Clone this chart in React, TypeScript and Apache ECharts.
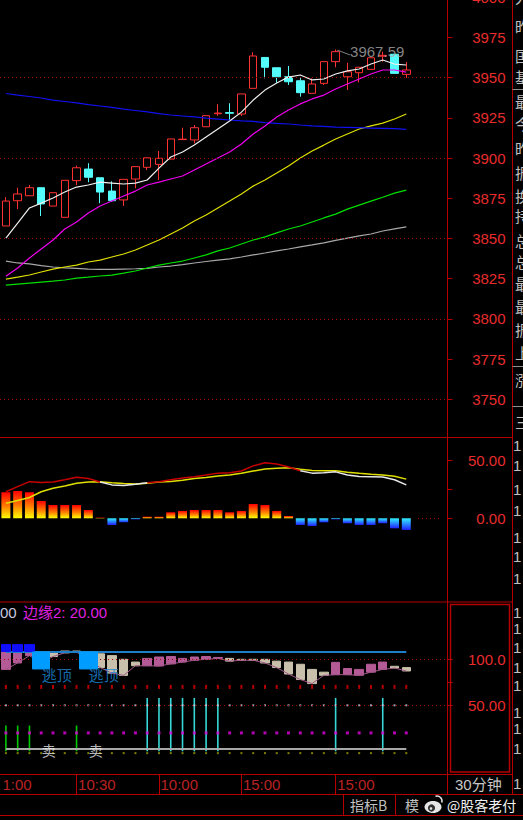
import React, { useEffect, useRef } from "react";
import * as echarts from "echarts";

// ---------- data ----------
const categories = Array.from({ length: 38 }, (_, i) => "k" + (i + 1));

const openP = [3857.8, 3873.5, 3876.6, 3881.6, 3870.2, 3863.2, 3886.0, 3893.2, 3887.8, 3879.5, 3874.0, 3887.0, 3894.3, 3896.1, 3899.4, 3911.5, 3911.3, 3919.5, 3927.6, 3928.3, 3927.4, 3943.4, 3962.6, 3956.2, 3950.6, 3948.1, 3940.3, 3946.5, 3960.0, 3950.6, 3953.1, 3955.2, 3963.4, 3964.6, 3952.1];
const closeP = [3873.3, 3877.7, 3881.6, 3871.5, 3878.5, 3886.2, 3894.0, 3888.1, 3878.9, 3873.5, 3886.8, 3894.7, 3900.2, 3899.9, 3911.9, 3911.8, 3918.9, 3926.4, 3928.0, 3927.9, 3939.9, 3963.5, 3956.5, 3950.6, 3947.5, 3940.7, 3946.1, 3960.0, 3966.2, 3953.7, 3956.5, 3962.4, 3963.9, 3952.7, 3954.8];
const lowP = [3857.8, 3868.3, 3876.6, 3864.0, 3870.2, 3863.2, 3883.3, 3885.0, 3871.9, 3873.0, 3870.2, 3881.2, 3892.6, 3886.4, 3899.4, 3911.5, 3909.2, 3919.5, 3926.4, 3923.7, 3926.2, 3943.4, 3949.6, 3946.9, 3945.5, 3938.2, 3940.3, 3945.5, 3956.5, 3942.4, 3947.1, 3955.2, 3960.0, 3952.7, 3949.8];
const highP = [3875.8, 3881.6, 3883.3, 3881.6, 3878.5, 3886.2, 3895.3, 3896.8, 3887.8, 3885.6, 3886.8, 3894.7, 3900.2, 3904.4, 3911.9, 3918.9, 3920.6, 3926.4, 3933.5, 3934.1, 3939.9, 3965.8, 3962.6, 3956.2, 3957.3, 3950.0, 3949.6, 3960.0, 3967.59, 3959.3, 3956.5, 3962.4, 3966.2, 3964.6, 3959.8];

const ma5 = [3850.3, 3859.6, 3869.0, 3872.0, 3875.2, 3878.9, 3882.0, 3883.3, 3885.1, 3884.5, 3883.9, 3884.5, 3886.4, 3893.8, 3900.7, 3903.8, 3908.1, 3913.1, 3918.1, 3923.1, 3928.6, 3936.1, 3942.3, 3946.7, 3950.4, 3951.7, 3948.6, 3949.2, 3952.3, 3954.2, 3955.4, 3958.5, 3961.0, 3958.5, 3957.9];
const ma10 = [3826.6, 3831.7, 3837.9, 3843.5, 3849.1, 3855.9, 3860.3, 3865.9, 3870.2, 3873.3, 3876.4, 3879.5, 3883.3, 3885.1, 3887.0, 3888.9, 3892.6, 3896.3, 3900.1, 3903.8, 3908.8, 3915.0, 3920.0, 3925.6, 3929.9, 3933.7, 3936.8, 3939.2, 3943.0, 3946.1, 3949.2, 3952.3, 3954.8, 3954.8, 3953.5];
const ma20 = [3824.8, 3826.0, 3827.3, 3829.2, 3831.0, 3832.3, 3833.5, 3835.4, 3836.6, 3838.5, 3840.4, 3842.9, 3846.0, 3849.1, 3852.8, 3856.5, 3860.9, 3864.6, 3869.0, 3873.3, 3877.7, 3882.6, 3886.4, 3890.7, 3895.1, 3900.1, 3904.4, 3908.1, 3911.9, 3915.0, 3918.1, 3920.0, 3921.8, 3924.3, 3927.4];
const ma30 = [3821.0, 3821.7, 3822.3, 3822.9, 3823.5, 3824.2, 3825.4, 3826.0, 3826.7, 3827.3, 3828.5, 3829.8, 3831.7, 3833.5, 3834.8, 3836.0, 3837.9, 3839.8, 3842.3, 3844.1, 3846.6, 3849.1, 3851.0, 3853.5, 3855.9, 3857.8, 3860.3, 3862.8, 3865.2, 3868.3, 3870.8, 3873.3, 3875.7, 3878.2, 3880.1];
const ma60 = [3836.0, 3834.8, 3834.2, 3833.2, 3832.3, 3831.7, 3831.4, 3831.0, 3830.8, 3830.8, 3831.0, 3831.2, 3831.5, 3832.3, 3832.9, 3833.8, 3834.8, 3835.7, 3836.6, 3837.3, 3838.5, 3839.8, 3841.0, 3842.3, 3843.5, 3844.8, 3846.0, 3847.3, 3848.8, 3850.3, 3851.6, 3852.8, 3854.7, 3856.0, 3857.2];
const ma120 = [3940.2, 3939.2, 3938.3, 3937.4, 3936.1, 3935.2, 3934.3, 3933.3, 3932.4, 3931.5, 3930.5, 3929.6, 3928.7, 3927.7, 3926.8, 3926.2, 3925.6, 3924.9, 3924.3, 3923.7, 3923.1, 3922.8, 3922.1, 3921.6, 3921.2, 3920.6, 3920.1, 3919.8, 3919.3, 3919.1, 3918.9, 3918.7, 3918.5, 3918.3, 3917.9];

const highIdx = 28;
const highMark = 3967.59;

const priceTicks = [3750, 3775, 3800, 3825, 3850, 3875, 3900, 3925, 3950, 3975, 4000];
const priceGrid = [3750, 3800, 3850, 3900, 3950];

const macdBar = [22.6, 23.7, 22.6, 15.0, 11.5, 11.5, 11.5, 7.2, 0.6, -5.8, -3.5, -0.9, 1.4, 1.4, 5.2, 6.4, 7.2, 7.2, 7.2, 5.2, 6.4, 12.4, 11.5, 6.4, 2.0, -5.8, -6.7, -3.5, -0.9, -4.3, -5.8, -5.8, -4.3, -8.7, -10.1];
const difLine = [23.0, 27.5, 31.8, 31.0, 31.5, 33.5, 35.6, 34.5, 31.5, 29.0, 28.5, 29.6, 30.9, 31.8, 33.5, 35.0, 36.0, 37.5, 39.2, 39.5, 41.0, 45.5, 48.2, 47.1, 44.5, 41.2, 39.2, 39.5, 40.3, 37.6, 36.2, 36.1, 35.8, 33.5, 29.0];
const deaLine = [13.0, 15.5, 18.0, 23.0, 26.0, 28.0, 30.4, 31.5, 31.8, 30.8, 30.2, 29.8, 30.5, 31.5, 32.0, 33.0, 34.5, 35.5, 36.7, 37.5, 39.0, 41.0, 42.8, 43.5, 43.9, 42.5, 41.5, 41.3, 41.3, 40.0, 39.0, 38.2, 37.6, 36.5, 34.0];
const macdTicks = [0, 25, 50];
const macdLabels = [0, 50];

const kOpen = [89, 96, 104, 108, 108, 109, 109, 107, 106, 104, 100, 97, 93, 92.7, 95, 97, 99, 100, 101, 101, 100, 100, 100, 98, 97, 94.6, 89, 86, 83.3, 83.3, 82.6, 86, 89, 92.4, 91];
const kClose = [108, 108, 108, 96, 103, 107, 108, 99, 91, 85, 82.5, 93, 101, 102.5, 103, 101, 102.5, 103, 102, 98, 99, 99, 96, 91, 84, 78, 73.6, 82.6, 96.7, 90, 89, 94.6, 97, 90.5, 87.3];
const kTicks = [50, 75, 100];
const kLabels = [50, 100];
const kGrid = [50, 100];
const bandLevel = 108; // blue line
const baseLevel = 3; // grey line
const topBoxIdx = [3, 7];
const topBoxLow = 89.5;
const topBoxHigh = 108;
const smallSqIdx = [0, 1, 2];
const smallSqLow = 108.5;
const smallSqHigh = 116;
const greenSigIdx = [0, 1, 2, 6];
const greenSigVal = 28;
const cyanSigIdx = [12, 13, 14, 15, 16, 17, 18, 28, 32];
const cyanSigVal = 58;
const dotRed = 70;
const dotWhite = 50;
const dotMagenta = 20;
const dotOlive = -2;
const escapeText = "逃顶";
const escapeVal = 84;
const sellText = "卖";
const sellVal = 1.4;

const timeIdx = [0, 6, 13, 20, 28];
const timeText = ["1:00", "10:30", "10:00", "15:00", "15:00"];
const timeSeps = [6, 13, 20, 28];

const sideChars = ["人", "昨", "国", "基", "最", "今", "昨", "振", "换", "持", "总", "总", "最", "最", "振", "上", "涨", "三"];
const sideDigits = ["1", "1", "1", "1", "1", "1", "1", "1", "1", "1", "1", "1", "1", "1", "1", "1"];

// ---------- component ----------
export default function App() {
  const ref = useRef<HTMLDivElement>(null);

  useEffect(() => {
    document.body.style.margin = "0";
    document.body.style.background = "#000";
    const chart = echarts.init(ref.current!, null, { renderer: "svg" });
    const N = openP.length;
    const frame = "#b40000";
    const labelRed = "#e82c2c";
    const numFont = "Liberation Sans";
    const cjkFont = "Noto Sans CJK SC";
    const gridRight = 75.5;

    const sparse = (idxs: number[], v: any) =>
      Array.from({ length: N }, (_, i) => (idxs.indexOf(i) >= 0 ? v : ["-", "-", "-", "-"]));

    const up = (i: number) => difLine[i] >= deaLine[i];
    const difRed = difLine.map((v, i) => (up(i) || (i > 0 && up(i - 1)) ? v : null));
    const difWhite = difLine.map((v, i) => (!up(i) || (i > 0 && !up(i - 1)) ? v : null));

    const posGrad = new echarts.graphic.LinearGradient(0, 0, 0, 1, [
      { offset: 0, color: "#ff0000" },
      { offset: 0.55, color: "#ff8000" },
      { offset: 1, color: "#ffff00" },
    ]);
    const negGrad = new echarts.graphic.LinearGradient(0, 0, 0, 1, [
      { offset: 0, color: "#30f0ff" },
      { offset: 1, color: "#2020ff" },
    ]);

    const kLine = kOpen.map((o, i) => Math.min(o, kClose[i]));

    const xAxes = [0, 1, 2, 3].map((g) => ({
      type: "category",
      gridIndex: g,
      data: categories,
      boundaryGap: true,
      show: false,
    }));

    const axisCommon = {
      position: "right",
      axisLine: { show: true, lineStyle: { color: frame, width: 1 } },
      splitLine: { show: false },
    };

    const yAxes: any[] = [
      {
        ...axisCommon,
        type: "value",
        gridIndex: 0,
        min: 3726.4,
        max: 4000,
        axisTick: { show: true, customValues: priceTicks, length: 5, lineStyle: { color: frame } },
        axisLabel: {
          customValues: priceTicks,
          color: labelRed,
          fontSize: 15,
          fontFamily: numFont,
          align: "right",
          margin: 58,
          formatter: (v: number) => String(v),
        },
      },
      {
        ...axisCommon,
        type: "value",
        gridIndex: 1,
        min: -72.5,
        max: 70.3,
        axisTick: { show: true, customValues: macdTicks, length: 5, lineStyle: { color: frame } },
        axisLabel: {
          customValues: macdLabels,
          color: labelRed,
          fontSize: 15,
          fontFamily: numFont,
          align: "right",
          margin: 58,
          formatter: (v: number) => v.toFixed(2),
        },
      },
      {
        ...axisCommon,
        type: "value",
        gridIndex: 2,
        min: -25,
        max: 162.5,
        axisTick: { show: true, customValues: kTicks, length: 5, lineStyle: { color: frame } },
        axisLabel: {
          customValues: kLabels,
          color: labelRed,
          fontSize: 15,
          fontFamily: numFont,
          align: "right",
          margin: 58,
          formatter: (v: number) => (v >= 100 ? v.toFixed(1) : v.toFixed(2)),
        },
      },
      { type: "value", gridIndex: 3, min: 0, max: 1, show: false },
    ];

    const dotted = { color: "#a00000", type: [1, 3], width: 1 };

    const maSeries = [
      { d: ma60, c: "#a8a8a8" },
      { d: ma30, c: "#00e000" },
      { d: ma20, c: "#e0e000" },
      { d: ma120, c: "#1010f0" },
      { d: ma10, c: "#f000f0" },
      { d: ma5, c: "#f0f0f0" },
    ].map((m) => ({
      type: "line",
      xAxisIndex: 0,
      yAxisIndex: 0,
      data: m.d,
      symbol: "none",
      showSymbol: false,
      lineStyle: { color: m.c, width: 1.2 },
      z: 4,
      silent: true,
    }));

    const dotSeries = (val: number, color: string, size: number[]) => ({
      type: "scatter",
      xAxisIndex: 2,
      yAxisIndex: 2,
      data: Array.from({ length: N }, (_, i) => [i, val]),
      symbol: "rect",
      symbolSize: size,
      itemStyle: { color },
      z: 2,
      silent: true,
    });

    const series: any[] = [
      // main gridlines
      {
        type: "line",
        xAxisIndex: 0,
        yAxisIndex: 0,
        data: [],
        z: 1,
        markLine: {
          silent: true,
          symbol: ["none", "none"],
          label: { show: false },
          lineStyle: dotted,
          data: priceGrid.map((v) => ({ yAxis: v })),
        },
      },
      {
        type: "candlestick",
        xAxisIndex: 0,
        yAxisIndex: 0,
        data: openP.map((o, i) => [o, closeP[i], lowP[i], highP[i]]),
        barWidth: 8,
        itemStyle: {
          color: "#000000",
          color0: "#54fcfc",
          borderColor: "#ff3232",
          borderColor0: "#54fcfc",
          borderWidth: 1,
        },
        z: 3,
        silent: true,
      },
      ...maSeries,
      {
        type: "scatter",
        xAxisIndex: 0,
        yAxisIndex: 0,
        data: [[highIdx, highMark]],
        symbol: "path://M0 0L14 5",
        symbolSize: [13, 5],
        symbolOffset: [8, 3],
        itemStyle: { color: "none", borderColor: "#a8a8a8", borderWidth: 1 },
        label: {
          show: true,
          position: [17, 3],
          align: "left",
          verticalAlign: "middle",
          color: "#a8a8a8",
          fontSize: 15,
          fontFamily: numFont,
          formatter: () => highMark.toFixed(2),
        },
        z: 6,
        silent: true,
      },
      // MACD
      {
        type: "bar",
        xAxisIndex: 1,
        yAxisIndex: 1,
        data: macdBar,
        barWidth: 9,
        itemStyle: { color: (p: any) => (p.value >= 0 ? posGrad : negGrad) },
        z: 2,
        silent: true,
        markLine: {
          silent: true,
          symbol: ["none", "none"],
          label: { show: false },
          lineStyle: dotted,
          data: [[{ coord: [35, 0] }, { coord: [37, 0] }]],
        },
      },
      {
        type: "line",
        xAxisIndex: 1,
        yAxisIndex: 1,
        data: deaLine,
        symbol: "none",
        lineStyle: { color: "#e0e000", width: 1.5 },
        z: 3,
        silent: true,
      },
      {
        type: "line",
        xAxisIndex: 1,
        yAxisIndex: 1,
        data: difRed,
        symbol: "none",
        connectNulls: false,
        lineStyle: { color: "#c80000", width: 1.5 },
        z: 4,
        silent: true,
      },
      {
        type: "line",
        xAxisIndex: 1,
        yAxisIndex: 1,
        data: difWhite,
        symbol: "none",
        connectNulls: false,
        lineStyle: { color: "#e8e8e8", width: 1.5 },
        z: 4,
        silent: true,
      },
      // third panel
      {
        type: "line",
        xAxisIndex: 2,
        yAxisIndex: 2,
        data: [],
        z: 1,
        markLine: {
          silent: true,
          symbol: ["none", "none"],
          label: { show: false },
          lineStyle: dotted,
          data: kGrid.map((v) => ({ yAxis: v })),
        },
      },
      dotSeries(dotRed, "#e00000", [2, 4]),
      dotSeries(dotWhite, "#c8c8dc", [2, 2]),
      dotSeries(dotMagenta, "#e000e0", [3, 3]),
      dotSeries(dotOlive, "#a0a000", [2, 2]),
      {
        type: "bar",
        xAxisIndex: 2,
        yAxisIndex: 2,
        data: Array.from({ length: N }, (_, i) =>
          greenSigIdx.indexOf(i) >= 0
            ? { value: greenSigVal, itemStyle: { color: "#00c800" } }
            : cyanSigIdx.indexOf(i) >= 0
            ? { value: cyanSigVal, itemStyle: { color: "#38d8d8" } }
            : "-"
        ),
        barWidth: 1.6,
        z: 2,
        silent: true,
        markLine: {
          silent: true,
          symbol: ["none", "none"],
          label: { show: false },
          lineStyle: { color: "#a8a8a8", width: 2, type: "solid" },
          data: [[{ coord: [0, baseLevel] }, { coord: [N - 1, baseLevel] }]],
        },
      },
      {
        type: "candlestick",
        xAxisIndex: 2,
        yAxisIndex: 2,
        data: kOpen.map((o, i) => [o, kClose[i], Math.min(o, kClose[i]), Math.max(o, kClose[i])]),
        barWidth: 9,
        itemStyle: {
          color: "#b45a96",
          color0: "#c8c0aa",
          borderColor: "#b45a96",
          borderColor0: "#c8c0aa",
          borderWidth: 1,
        },
        z: 3,
        silent: true,
      },
      {
        type: "line",
        xAxisIndex: 2,
        yAxisIndex: 2,
        data: kLine,
        symbol: "none",
        lineStyle: { color: "#a05888", width: 1 },
        z: 4,
        silent: true,
        markLine: {
          silent: true,
          symbol: ["none", "none"],
          label: { show: false },
          lineStyle: { color: "#1e7ec8", width: 2, type: "solid" },
          data: [[{ coord: [0, bandLevel] }, { coord: [N - 1, bandLevel] }]],
        },
      },
      {
        type: "candlestick",
        xAxisIndex: 2,
        yAxisIndex: 2,
        data: sparse(smallSqIdx, [smallSqLow, smallSqHigh, smallSqLow, smallSqHigh]),
        barWidth: 10,
        itemStyle: { color: "#1010ff", color0: "#1010ff", borderColor: "#1010ff", borderColor0: "#1010ff" },
        z: 5,
        silent: true,
      },
      {
        type: "candlestick",
        xAxisIndex: 2,
        yAxisIndex: 2,
        data: sparse(topBoxIdx, [topBoxLow, topBoxHigh, topBoxLow, topBoxHigh]),
        barWidth: 18,
        itemStyle: { color: "#009cff", color0: "#009cff", borderColor: "#009cff", borderColor0: "#009cff" },
        z: 5,
        silent: true,
      },
      {
        type: "scatter",
        xAxisIndex: 2,
        yAxisIndex: 2,
        data: topBoxIdx.map((i) => [i, escapeVal]),
        symbolSize: 1,
        itemStyle: { color: "transparent" },
        label: {
          show: true,
          position: "inside",
          align: "left",
          verticalAlign: "middle",
          offset: [0.5, 0],
          formatter: escapeText,
          color: "#1a88d8",
          fontSize: 15,
          fontFamily: cjkFont,
        },
        z: 6,
        silent: true,
      },
      {
        type: "scatter",
        xAxisIndex: 2,
        yAxisIndex: 2,
        data: topBoxIdx.map((i) => [i, sellVal]),
        symbolSize: 1,
        itemStyle: { color: "transparent" },
        label: {
          show: true,
          position: "inside",
          align: "left",
          verticalAlign: "middle",
          offset: [0.5, 0],
          formatter: sellText,
          color: "#e8e8e8",
          fontSize: 14,
          fontFamily: cjkFont,
        },
        z: 6,
        silent: true,
      },
      // time row
      {
        type: "scatter",
        xAxisIndex: 3,
        yAxisIndex: 3,
        data: timeIdx.map((i, k) =>
          k === 0
            ? { value: [i, 0.5, timeText[k]], label: { offset: [-5, 0] } }
            : { value: [i, 0.5, timeText[k]] }
        ),
        symbolSize: 1,
        itemStyle: { color: "transparent" },
        label: {
          show: true,
          position: "right",
          distance: 1,
          formatter: (p: any) => p.value[2],
          color: labelRed,
          fontSize: 15,
          fontFamily: numFont,
        },
        silent: true,
        markLine: {
          silent: true,
          symbol: ["none", "none"],
          label: { show: false },
          lineStyle: { color: frame, width: 1, type: "solid" },
          data: timeSeps.map((i) => ({ xAxis: i })),
        },
      },
    ];

    // ---------- decorations ----------
    const g: any[] = [];
    const line = (x1: number, y1: number, x2: number, y2: number, color = frame, w = 1) =>
      g.push({ type: "line", silent: true, shape: { x1, y1, x2, y2 }, style: { stroke: color, lineWidth: w } });
    const text = (t: string, x: number, y: number, fill: string, size = 15, font = cjkFont, align = "left") =>
      g.push({
        type: "text",
        silent: true,
        x,
        y,
        style: {
          text: t,
          fill,
          fontSize: size,
          fontFamily: font,
          textAlign: align,
          textVerticalAlign: "middle",
          align,
          verticalAlign: "middle",
        },
        z: 10,
      });

    [437.5, 602, 774.5].forEach((y) => line(0, y, 512.5, y));
    line(0, 794.5, 523, 794.5);
    line(0, 815.5, 523, 815.5);
    line(447.5, 0, 447.5, 794.5);
    line(512.5, 0, 512.5, 794.5);
    line(343.5, 794.5, 343.5, 815.5);
    line(395.5, 794.5, 395.5, 815.5);
    [89.5, 366.5, 406.5].forEach((y) => line(512.5, y, 523, y, "#909090"));
    g.push({
      type: "rect",
      silent: true,
      shape: { x: 450.5, y: 604.5, width: 59, height: 167.5 },
      style: { stroke: frame, fill: "none", lineWidth: 1.5 },
    });

    const sideY = [-3, 26, 55, 76, 101, 123, 148, 172, 195, 215, 240, 261, 283, 306, 329, 352, 379, 421];
    sideChars.forEach((c, i) => text(c, 515, sideY[i], "#c0c0c0", 15));
    const digitY = [445, 465, 489, 510, 537, 556, 578, 612, 628, 647, 667, 685, 712, 728, 748, 783];
    sideDigits.forEach((c, i) => text(c, 513, digitY[i], "#c0c0c0", 15, numFont));

    text("00", 0, 612, "#c8c8e0", 15, numFont);
    text("边缘2: 20.00", 23, 612, "#e020e0", 15, numFont + ", " + cjkFont);
    text("30分钟", 455, 784.5, "#c8c8c8", 15, numFont + ", " + cjkFont);
    text("指标B", 350, 805, "#c0c0c0", 14, cjkFont);
    text("模", 405, 805, "#c0c0c0", 14, cjkFont);
    text("@股客老付", 447, 805, "#f0f0f0", 14, cjkFont);
    // weibo-like logo
    g.push({ type: "ellipse", silent: true, shape: { cx: 433, cy: 807, rx: 8.5, ry: 6 }, style: { fill: "#e6e6e6" }, z: 10 });
    g.push({ type: "circle", silent: true, shape: { cx: 431.5, cy: 808, r: 3.6 }, style: { fill: "#303030" }, z: 11 });
    g.push({ type: "circle", silent: true, shape: { cx: 431, cy: 808.5, r: 1.3 }, style: { fill: "#e6e6e6" }, z: 12 });
    g.push({
      type: "arc",
      silent: true,
      shape: { cx: 437, cy: 801, r: 5, startAngle: -Math.PI * 0.6, endAngle: Math.PI * 0.1 },
      style: { stroke: "#e6e6e6", lineWidth: 1.5, fill: "none" },
      z: 10,
    });

    const option: any = {
      animation: false,
      backgroundColor: "#000000",
      grid: [
        { left: 0, right: gridRight, top: -2.7, height: 440, outerBoundsMode: "none", containLabel: false },
        { left: 0, right: gridRight, top: 437.3, height: 164.5, outerBoundsMode: "none", containLabel: false },
        { left: 0, right: gridRight, top: 601.8, height: 172.5, outerBoundsMode: "none", containLabel: false },
        { left: 0, right: gridRight, top: 774.3, height: 20, outerBoundsMode: "none", containLabel: false },
      ],
      xAxis: xAxes,
      yAxis: yAxes,
      series,
      graphic: { elements: g },
    };
    chart.setOption(option);
    return () => chart.dispose();
  }, []);

  return (
    <div
      ref={ref}
      style={{ position: "absolute", left: 0, top: 0, width: 523, height: 820, background: "#000" }}
    />
  );
}
